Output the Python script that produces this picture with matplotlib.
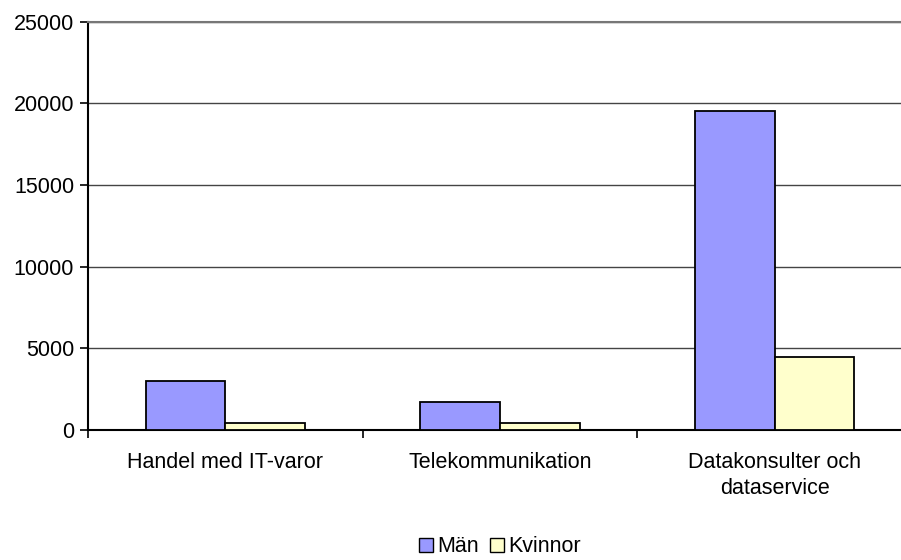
import numpy as np
import matplotlib
matplotlib.use("Agg")
import matplotlib.pyplot as plt
from matplotlib.patches import Patch

categories = ["Handel med IT-varor", "Telekommunikation", "Datakonsulter och\ndataservice"]
man = [3000, 1700, 19500]
kvinnor = [450, 450, 4480]
yticks = [0, 5000, 10000, 15000, 20000, 25000]

plt.rcParams['font.family'] = ['Liberation Sans', 'DejaVu Sans']
fs = 15.5

fig = plt.figure(figsize=(9.01, 5.60), dpi=100)
# plot area runs slightly past the right edge of the picture, like the original
ax = fig.add_axes([88 / 901, 1 - 430 / 560, (912 - 88) / 901, (430 - 21.5) / 560])

x = np.arange(len(categories)) + 0.5
w = 0.29
ax.bar(x - w / 2, man, w, color='#9999FF', edgecolor='black', linewidth=1.3, label='Män', zorder=3)
ax.bar(x + w / 2, kvinnor, w, color='#FFFFCC', edgecolor='black', linewidth=1.3, label='Kvinnor', zorder=3)

ax.set_xlim(0, len(categories))
ax.set_ylim(0, 25000)
ax.set_yticks(yticks)
ax.set_yticklabels([str(v) for v in yticks], fontsize=fs)
ax.yaxis.grid(True, color='#444444', linewidth=1)
ax.set_axisbelow(True)

ax.set_xticks(np.arange(len(categories) + 1))
ax.set_xticklabels([])
ax.set_xticks(x, minor=True)
ax.set_xticklabels(categories, minor=True, fontsize=fs, linespacing=1.3)
ax.tick_params(axis='x', which='minor', length=0, pad=16)
ax.tick_params(axis='x', which='major', length=6, width=1.2, direction='out')
ax.tick_params(axis='y', length=6, width=1.2, direction='out', pad=4)

for s in ['left', 'bottom']:
    ax.spines[s].set_linewidth(1.5)
ax.spines['top'].set_color('#777777')
ax.spines['top'].set_linewidth(1.5)
ax.spines['right'].set_visible(False)

handles = [Patch(facecolor='#9999FF', edgecolor='black'), Patch(facecolor='#FFFFCC', edgecolor='black')]
fig.legend(handles, ['Män', 'Kvinnor'], loc='center', bbox_to_anchor=(500 / 901, 1 - 547 / 560),
           ncol=2, frameon=False, fontsize=fs, handlelength=0.65, handleheight=0.65,
           handletextpad=0.2, columnspacing=0.5)

fig.savefig("out.png", dpi=100)
